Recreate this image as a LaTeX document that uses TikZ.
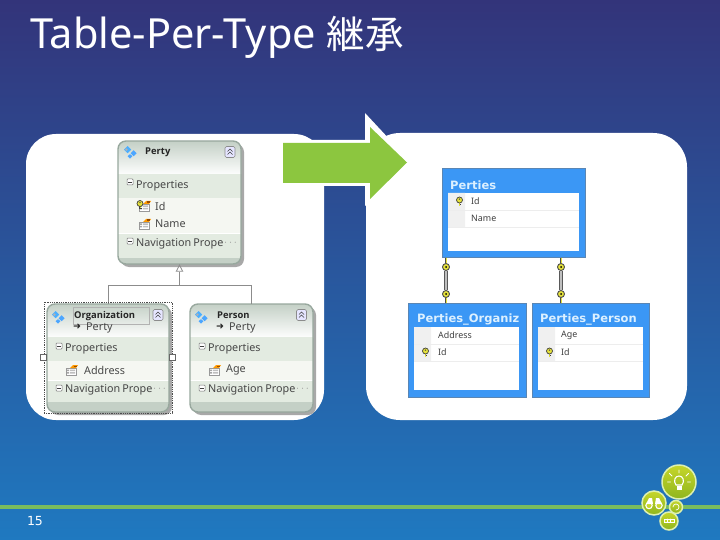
\documentclass[tikz,border=0pt]{standalone}
\usepackage{fontspec}
\setmainfont{Noto Sans}
\newfontfamily\cjkf{Noto Sans CJK JP}
\newfontfamily\dvf{DejaVu Sans}
\newfontfamily\opf{Open Sans}
\usetikzlibrary{arrows.meta,shapes.geometric}
\definecolor{bgtop}{HTML}{33347A}
\definecolor{bgbot}{HTML}{1F79C0}
\definecolor{grn}{HTML}{8CC63F}
\definecolor{rule}{HTML}{79BC5E}
\definecolor{band}{HTML}{E3EBE1}
\definecolor{rowc}{HTML}{F5F7F2}
\definecolor{foot}{HTML}{C4D0C6}
\definecolor{edge}{HTML}{98A89E}
\definecolor{tblue}{HTML}{3B97F5}
\definecolor{tedge}{HTML}{5A86B4}
\definecolor{ttext}{HTML}{DCF0FF}
\definecolor{keyy}{HTML}{E6E23A}
\definecolor{bubtop}{HTML}{C6D62A}
\definecolor{bubbot}{HTML}{8FB51E}
\definecolor{bubedge}{HTML}{DDF0B0}
\tikzset{
 panel/.style={fill=white,draw=none,inner sep=0pt},
 entbox/.style={draw=edge,line width=1.4pt,rounded corners=8pt,inner sep=0pt,fill=none},
 etext/.style={anchor=west,inner sep=0pt,yshift=-1pt,text=black!72,font=\fontsize{10.8}{12}\selectfont},
 ename/.style={anchor=west,inner sep=0pt,text=black!85,font=\opf\fontsize{9.4}{11}\selectfont\bfseries},
 ttitle/.style={anchor=west,inner sep=0pt,yshift=-1pt,text=ttext,font=\dvf\fontsize{11.5}{13}\selectfont\bfseries},
 trow/.style={anchor=west,inner sep=0pt,text=black!75,font=\fontsize{8.9}{10}\selectfont},
 tbox/.style={fill=tblue,draw=tedge,line width=1pt,inner sep=0pt},
 inh/.style={draw=black!45,line width=.8pt},
 rel/.style={draw=black!65,line width=1.2pt,double=black!25,double distance=1.4pt},
 stub/.style={draw=black!70,line width=1.6pt},
 stubin/.style={draw=keyy,line width=.7pt},
 keyc/.style={circle,fill=keyy,draw=black!70,line width=.9pt,minimum size=7pt,inner sep=0pt},
 bub/.style={circle,draw=bubedge,line width=1.5pt,inner sep=0pt,top color=bubtop,bottom color=bubbot},
 ico/.style={draw=white,line width=1.1pt,line cap=round},
}
\newcommand{\gearic}[2]{\begin{scope}[shift={(#1,#2)},scale=1.2]
 \fill[blue!45!cyan!70] (-5,-2) -- (-2,-5) -- (1,-2) -- (-2,1) -- cycle;
 \fill[gray!60] (-3,-2) circle (1.1pt);
 \fill[blue!50!cyan!70] (0.5,1) -- (3,-1.5) -- (5.5,1) -- (3,3.5) -- cycle;
 \fill[blue!50!cyan!70] (-2,3.5) -- (0,1.8) -- (2,3.5) -- (0,5.5) -- cycle;
\end{scope}}
\newcommand{\minusic}[2]{\begin{scope}[shift={(#1,#2)}]
 \draw[black!55,fill=white,line width=.5pt,rounded corners=.8pt] (-3,-3) rectangle (3,3);
 \draw[black!75,line width=.7pt] (-1.7,0) -- (1.7,0);
\end{scope}}
\newcommand{\collapseic}[2]{\begin{scope}[shift={(#1,#2)}]
 \draw[black!45,fill=white!90!blue,line width=.6pt,rounded corners=1.5pt] (-5,-5.5) rectangle (5,5.5);
 \draw[black!75,line width=.7pt] (-2.5,-.5) -- (0,-3) -- (2.5,-.5) (-2.5,2.5) -- (0,0) -- (2.5,2.5);
\end{scope}}
\newcommand{\propic}[2]{\begin{scope}[shift={(#1,#2)}]
 \draw[black!40,fill=white,line width=.5pt] (-6,-2) rectangle (4,5);
 \fill[black!35] (-5,-.5) rectangle (-3,1) (-5,2) rectangle (-3,3.5);
 \fill[black!25] (-2,-.5) rectangle (3,1) (-2,2) rectangle (3,3.5);
 \fill[orange!80!yellow] (-2,-2) -- (1,-5) -- (6,-5) -- (4,-2) -- cycle;
 \fill[orange!60!black] (2,-4.5) rectangle (5,-3);
\end{scope}}
\newcommand{\keyic}[2]{\begin{scope}[shift={(#1,#2)}]
 \draw[black!75,line width=1.8pt] (0,0) -- (0,4.5);
 \draw[keyy,line width=.9pt] (0,0) -- (0,4.5);
 \draw[black!75,line width=.6pt] (0,3) -- (1.5,3);
 \draw[black!75,fill=keyy,line width=.7pt] (0,-1.5) circle (3pt);
 \fill[black!70] (0,-2.4) circle (.8pt);
\end{scope}}
\newcommand{\entity}[8]{%
 \fill[black!34,rounded corners=8pt] (#1+3,#2+3) rectangle (#3+3,#4+3);
 \begin{scope}
 \clip[rounded corners=8pt] (#1,#2) rectangle (#3,#4);
 \fill[top color=foot,bottom color=white!96!foot] (#1,#2) rectangle (#3,#5);
 \fill[band] (#1,#5) rectangle (#3,#6);
 \fill[rowc] (#1,#6) rectangle (#3,#7);
 \fill[band] (#1,#7) rectangle (#3,#8);
 \fill[foot] (#1,#8) rectangle (#3,#4);
 \draw[white,line width=.6pt] (#1,#7) -- (#3,#7);
 \end{scope}
 \path[entbox,draw] (#1,#2) rectangle (#3,#4);
}
\newcommand{\tblrows}[6]{%
 \fill[black!6] (#1,#4) rectangle (#2,#5) (#1,#5) rectangle (#2,#6);
 \draw[black!7,line width=.5pt] (#1,#5) -- (#3,#5) (#1,#6) -- (#3,#6);
}
\begin{document}
\begin{tikzpicture}[x=1pt,y=-1pt]
\useasboundingbox (0,0) rectangle (720,540);
\shade[top color=bgtop,bottom color=bgbot] (0,0) rectangle (720,540);
\fill[rule] (0,505) rectangle (720,509);
\node[anchor=west,inner sep=0pt,text=white,font=\fontsize{41.5}{46}\selectfont] (title) at (30,37) {Table-Per-Type {\cjkf\fontsize{38.5}{44}\selectfont 継承}};
\node[anchor=center,inner sep=0pt,text=white!85,font=\dvf\fontsize{12.5}{14}\selectfont] (pageno) at (35,521) {15};
\fill[panel,rounded corners=30pt] (26,134) rectangle (324,420);
\fill[panel,rounded corners=34pt] (366,133) rectangle (687,420);
% big arrow
\fill[white] (283,140) -- (365,140) -- (365,113) -- (411,162.5) -- (365,206) -- (365,186) -- (283,186) -- cycle;
\fill[grn] (283,143) -- (370,143) -- (370,127) -- (407,162.5) -- (370,199) -- (370,183) -- (283,183) -- cycle;
% entities
\entity{118}{141}{241}{264}{174}{198}{233}{258}
\entity{47}{304}{169}{412}{337}{361}{380}{402}
\entity{190}{304}{313}{412}{337}{361}{380}{402}
\node[minimum width=123pt,minimum height=123pt,inner sep=0pt] (perty) at (179.5,202.5) {};
\node[minimum width=122pt,minimum height=108pt,inner sep=0pt] (org) at (108,358) {};
\node[minimum width=123pt,minimum height=108pt,inner sep=0pt] (pers) at (251.5,358) {};
\coordinate (junc) at (179.5,285);
\draw[inh] (org.north) |- (junc);
\draw[inh] (pers.north) |- (junc);
\draw[inh,-{Triangle[open,length=7.5pt,width=7.5pt]}] (junc) -- (perty.south);
\node[draw=black!70,densely dotted,line width=.8pt,minimum width=128pt,minimum height=111pt,inner sep=0pt] (sel) at (108,357.5) {};
\node[draw=black!60,fill=white,minimum size=6pt,inner sep=0pt] (hl) at (sel.west) {};
\node[draw=black!60,fill=white,minimum size=6pt,inner sep=0pt] (hr) at (sel.east) {};
% Perty contents
\gearic{130}{152}\collapseic{230}{152}\minusic{130}{182}\minusic{130}{241}
\propic{145}{206}\keyic{140}{205}\propic{145}{224}
\node[ename] (t1) at (145,152) {Perty};
\node[etext] (t2) at (136,185) {Properties};
\node[etext] (t3) at (155,205) {Id};
\node[etext] (t4) at (155,223) {Name};
\node[etext] (t5) at (136,243) {Navigation\hspace{2pt}Prope};
\node[etext,text=black!40] (t6) at (224,242) {$\cdots$};
% Organization contents
\draw[black!30,line width=.5pt] (73,307) rectangle (149,324);
\gearic{58}{317}\collapseic{158}{315}\minusic{59}{346}\minusic{59}{388}
\propic{72}{370}
\node[ename] (o1) at (74,316) {Organization};
\node[anchor=west,inner sep=0pt,font=\dvf\fontsize{9.5}{11}\selectfont,text=black!85] (o2a) at (73,327) {➜};
\node[etext] (o2) at (86,327) {Perty};
\node[etext] (o3) at (65,348) {Properties};
\node[etext] (o4) at (84,369) {Address};
\node[etext] (o5) at (65,389) {Navigation\hspace{2pt}Prope};
\node[etext,text=black!40] (o6) at (153,388) {$\cdots$};
% Person contents
\gearic{201}{317}\collapseic{301.5}{315}\minusic{202}{346}\minusic{202}{388}
\propic{215}{370}
\node[ename] (p1) at (217,315) {Person};
\node[anchor=west,inner sep=0pt,font=\dvf\fontsize{9.5}{11}\selectfont,text=black!85] (p2a) at (216,327) {➜};
\node[etext] (p2) at (229,327) {Perty};
\node[etext] (p3) at (208,348) {Properties};
\node[etext] (p4) at (226,369) {Age};
\node[etext] (p5) at (208,389) {Navigation\hspace{2pt}Prope};
\node[etext,text=black!40] (p6) at (296,388) {$\cdots$};
% tables
\node[tbox,minimum width=143pt,minimum height=88pt] (perties) at (513.5,213) {};
\node[tbox,minimum width=118pt,minimum height=94pt] (torg) at (467,350) {};
\node[tbox,minimum width=117pt,minimum height=94pt] (tper) at (590.5,350) {};
\fill[white] (448,193) rectangle (579,251);
\fill[white] (414,327) rectangle (519,390);
\fill[white] (538,327) rectangle (643,390);
\tblrows{448}{465}{579}{193}{210}{227}
\tblrows{414}{431}{519}{327}{344}{361}
\tblrows{538}{555}{643}{327}{344}{361}
\keyic{459.5}{201.5}\keyic{425.5}{352.5}\keyic{549.5}{352.5}
\node[ttitle] (a1) at (450,184) {Perties};
\node[trow] (a2) at (471,201) {Id};
\node[trow] (a3) at (471,218) {Name};
\node[ttitle] (b1) at (417,318) {Perties\_Organiz};
\node[trow] (b2) at (438,335) {Address};
\node[trow] (b3) at (438,352) {Id};
\node[ttitle] (c1) at (540,318) {Perties\_Person};
\node[trow] (c2) at (561,335) {Age};
\node[trow] (c3) at (561,352) {Id};
% relationship connectors
\node[keyc] (k1t) at (446,267) {};
\node[keyc] (k1b) at (446,294) {};
\node[keyc] (k2t) at (561,267) {};
\node[keyc] (k2b) at (561,294) {};
\draw[stub] (perties.south -| k1t) -- (k1t);
\draw[stub] (torg.north -| k1b) -- (k1b);
\draw[stub] (perties.south -| k2t) -- (k2t);
\draw[stub] (tper.north -| k2b) -- (k2b);
\draw[stubin] (perties.south -| k1t) -- (k1t);
\draw[stubin] (torg.north -| k1b) -- (k1b);
\draw[stubin] (perties.south -| k2t) -- (k2t);
\draw[stubin] (tper.north -| k2b) -- (k2b);
\draw[rel] (k1t) -- (k1b);
\draw[rel] (k2t) -- (k2b);
\fill[black] (k1t) circle (1pt) (k1b) circle (1pt) (k2t) circle (1pt) (k2b) circle (1pt);
% logo
\node[bub,minimum size=34pt] (bulb) at (679,482) {};
\node[bub,minimum size=24pt] (bino) at (654,503) {};
\node[bub,minimum size=13pt] (cyc) at (676,507) {};
\node[bub,minimum size=18pt] (lips) at (669,521) {};
\begin{scope}[shift={(bulb.center)}]
 \draw[ico,fill=none] (-3,3) .. controls (-6,-1) and (-4,-6) .. (0,-6) .. controls (4,-6) and (6,-1) .. (3,3) -- cycle;
 \fill[white] (-2.5,4) rectangle (2.5,8);
 \draw[ico,line width=.8pt] (0,-9) -- (0,-12) (-7,-6) -- (-9.5,-8.5) (7,-6) -- (9.5,-8.5) (-8.5,0) -- (-11.5,0) (8.5,0) -- (11.5,0);
\end{scope}
\begin{scope}[shift={(bino.center)}]
 \draw[ico,fill=bubtop] (-5,2.5) circle (3.2pt) (5,2.5) circle (3.2pt);
 \fill[white] (-5,-5) -- (-2,-5) -- (-1,1) -- (-8,1) -- cycle (5,-5) -- (2,-5) -- (1,1) -- (8,1) -- cycle;
\end{scope}
\draw[ico,line width=.7pt] (cyc.center) ++(-3,0) arc (180:-90:3pt);
\begin{scope}[shift={(lips.center)}]
 \draw[ico,line width=.9pt,fill=bubtop] (-5,-2) rectangle (5,1.5);
 \draw[ico,line width=.7pt] (-1.7,-2) -- (-1.7,1.5) (1.7,-2) -- (1.7,1.5);
\end{scope}
\end{tikzpicture}
\end{document}
